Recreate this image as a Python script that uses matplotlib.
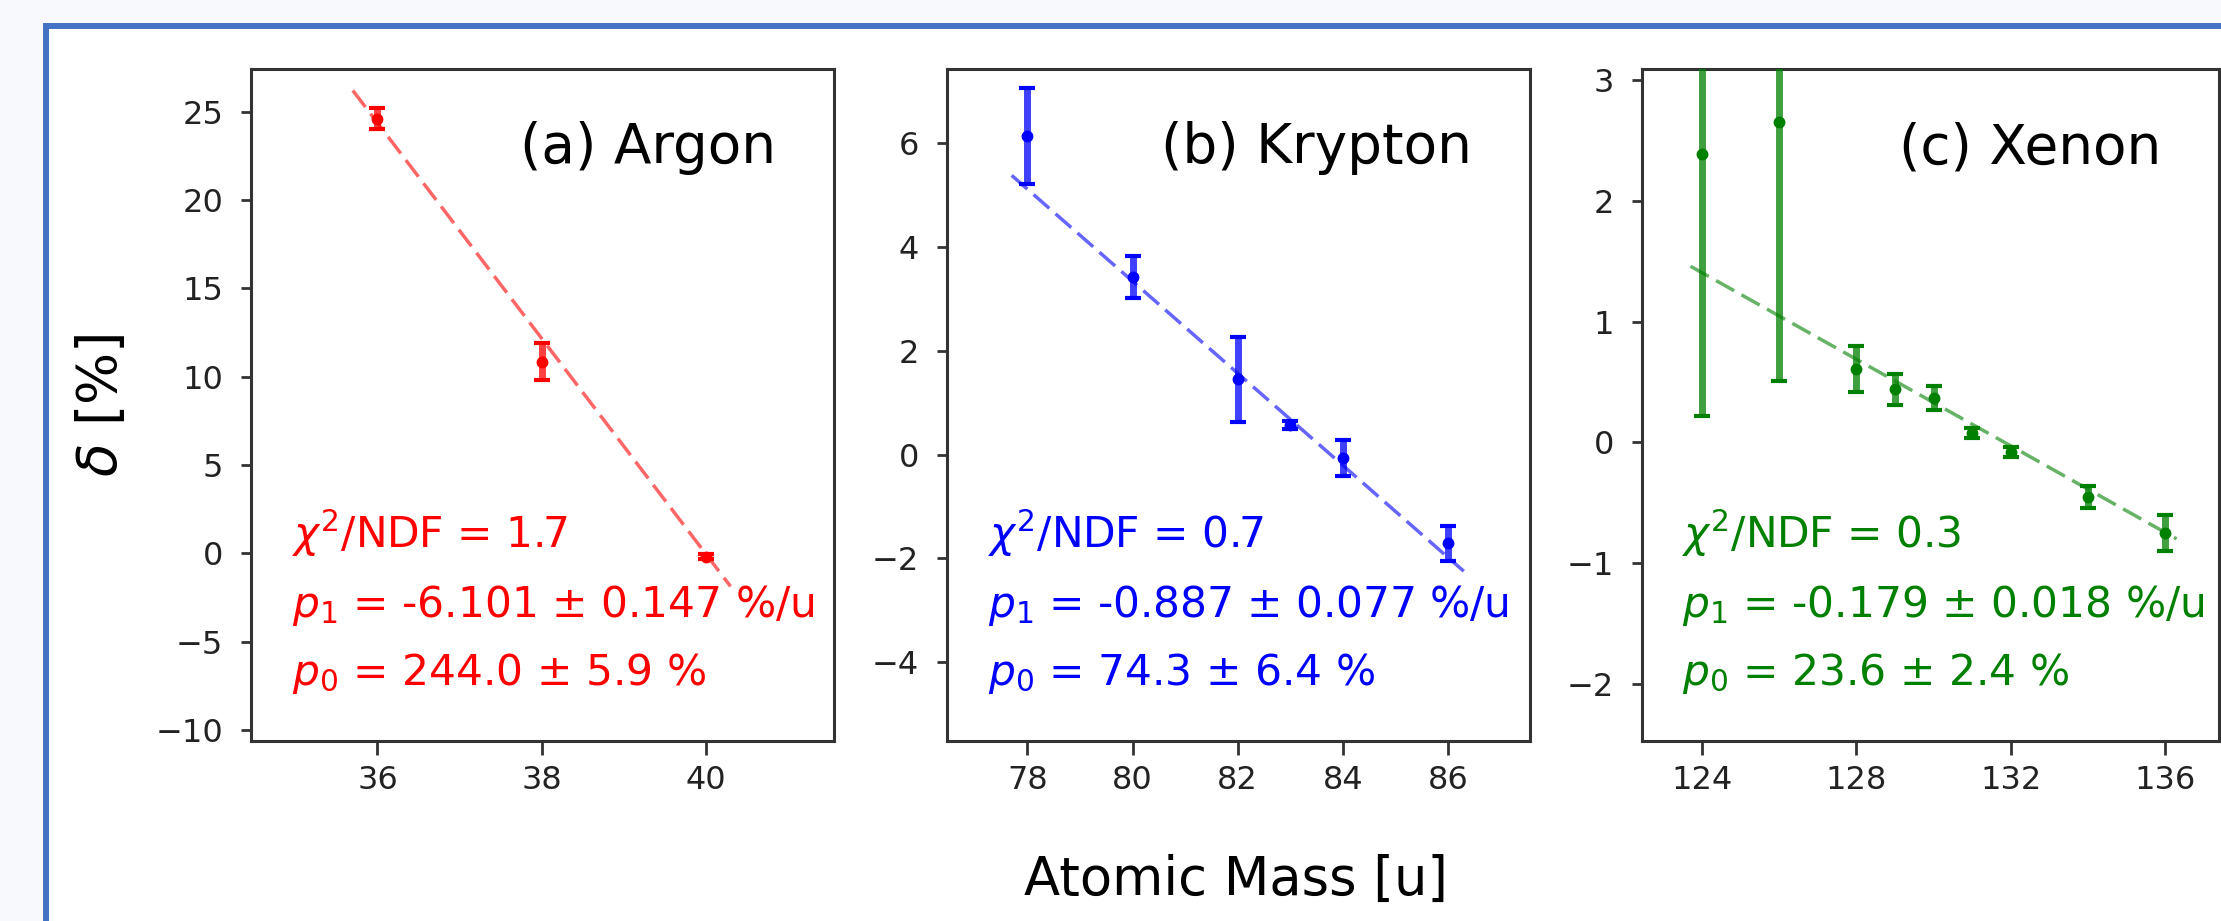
import matplotlib

matplotlib.use("Agg")
import matplotlib.pyplot as plt
import numpy as np
from matplotlib.patches import Rectangle

# values
argon_mass = [36, 38, 40]
argon_delta = [24.6, 10.85, -0.19]
argon_err = [0.6, 1.03, 0.15]

krypton_mass = [78, 80, 82, 83, 84, 86]
krypton_delta = [6.14, 3.42, 1.45, 0.57, -0.06, -1.71]
krypton_err = [0.92, 0.41, 0.82, 0.07, 0.35, 0.34]

xenon_mass = [124, 126, 128, 129, 130, 131, 132, 134, 136]
xenon_delta = [2.39, 2.65, 0.605, 0.44, 0.365, 0.08, -0.08, -0.45, -0.75]
xenon_err = [2.17, 2.14, 0.19, 0.13, 0.10, 0.04, 0.04, 0.09, 0.15]

# fit results printed in each panel: chi2/ndf, p1, p1 err, p0, p0 err
argon_fit = [1.7, -6.101, 0.147, 244.0, 5.9]
krypton_fit = [0.7, -0.887, 0.077, 74.3, 6.4]
xenon_fit = [0.3, -0.179, 0.018, 23.6, 2.4]

W, H = 2221, 921


def fig_box(left, top, right, bottom):
    """pixel box -> figure fraction [l, b, w, h]"""
    return [left / W, 1 - bottom / H, (right - left) / W, (bottom - top) / H]


def draw_panel(ax, mass, delta, err, fit, color, title, xlim, ylim, xticks, yticks):
    chi2, p1, p1_err, p0, p0_err = fit
    xs = np.array([min(mass) - 0.3, max(mass) + 0.3])
    ax.plot(xs, p0 + p1 * xs, linestyle=(0, (6, 2.4)), color=color, lw=2.5, alpha=0.6, zorder=2)
    _, caps, bars = ax.errorbar(
        mass, delta, yerr=err, fmt="o", color=color, ms=7.5,
        elinewidth=5, capsize=6, capthick=3, zorder=3,
    )
    for b in bars:
        b.set_alpha(0.75)

    ax.set_xlim(*xlim)
    ax.set_ylim(*ylim)
    ax.set_xticks(xticks)
    ax.set_yticks(yticks)
    ax.tick_params(axis="both", labelsize=23, width=2, color="#333333", labelcolor="#222222")
    ax.tick_params(axis="x", length=10, pad=7)
    ax.tick_params(axis="y", length=7, pad=13)
    for s in ax.spines.values():
        s.set_linewidth(2.2)
        s.set_color("#333333")

    ax.text(0.9, 0.86, title, transform=ax.transAxes, ha="right", va="baseline", fontsize=39.5)
    lines = [
        f"$\\chi^2$/NDF = {chi2}",
        f"$p_1$ = {p1:.3f} ± {p1_err:.3f} %/u",
        f"$p_0$ = {p0:.1f} ± {p0_err:.1f} %",
    ]
    for y, line in zip([0.287, 0.184, 0.084], lines):
        ax.text(0.07, y, line, transform=ax.transAxes, ha="left", va="baseline",
                fontsize=30.5, color=color)


fig = plt.figure(figsize=(W / 100, H / 100), dpi=100)
fig.patch.set_facecolor("#f7f9fc")

# slide frame from the screenshot
frame = Rectangle((46 / W, -0.2), 1.2, (H - 26) / H + 0.2, transform=fig.transFigure,
                  facecolor="white", edgecolor="#4472c4", lw=4.3, zorder=-10)
fig.patches.append(frame)

ax_a = fig.add_axes(fig_box(251, 69, 834, 741))
ax_b = fig.add_axes(fig_box(947, 69, 1530, 741))
ax_c = fig.add_axes(fig_box(1642, 69, 2219, 741))

draw_panel(ax_a, argon_mass, argon_delta, argon_err, argon_fit, "red", "(a) Argon",
           (34.46, 41.56), (-10.62, 27.41), [36, 38, 40], [-10, -5, 0, 5, 10, 15, 20, 25])
draw_panel(ax_b, krypton_mass, krypton_delta, krypton_err, krypton_fit, "blue", "(b) Krypton",
           (76.47, 87.56), (-5.52, 7.43), [78, 80, 82, 84, 86], [-4, -2, 0, 2, 4, 6])
draw_panel(ax_c, xenon_mass, xenon_delta, xenon_err, xenon_fit, "green", "(c) Xenon",
           (122.44, 137.40), (-2.47, 3.09), [124, 128, 132, 136], [-2, -1, 0, 1, 2, 3])

fig.text(102 / W, 1 - 405 / H, "$\\delta$ [%]", rotation=90, ha="center", va="center", fontsize=39.5)
fig.text(1236 / W, 1 - 880 / H, "Atomic Mass [u]", ha="center", va="center", fontsize=38)

fig.savefig("out.png", dpi=100, facecolor=fig.get_facecolor())
